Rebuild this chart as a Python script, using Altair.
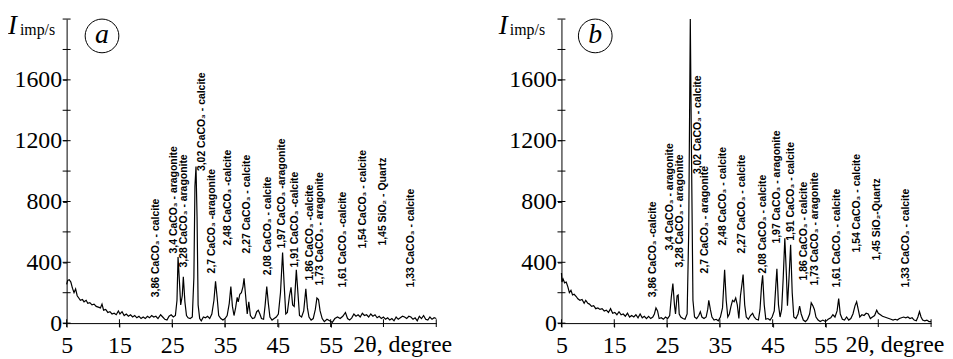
import altair as alt
import pandas as pd

# ---------------- data: panel a ----------------
a_deg = [5.0, 5.2, 5.5, 5.8, 6.1, 6.4, 6.7, 7.0, 7.3, 7.6, 8.0, 8.3, 8.7, 9.0, 9.4, 9.8, 10.2, 10.6, 11.0, 11.4,
         11.7, 12.0, 12.4, 12.8, 13.2, 13.6, 14.0, 14.4, 14.8, 15.1, 15.5, 15.9, 16.3, 16.7, 17.1, 17.5, 17.9, 18.3,
         18.7, 19.1, 19.5, 19.9, 20.3, 20.7, 21.1, 21.5, 21.9, 22.3, 22.8, 23.2, 23.6, 24.0, 24.4, 24.8, 25.2, 25.6,
         25.9, 26.1, 26.4, 26.6, 26.9, 27.1, 27.4, 27.7, 28.0, 28.4, 28.8, 29.1, 29.3, 29.5, 29.7, 29.9, 30.2, 30.5,
         30.9, 31.3, 31.7, 32.1, 32.5, 32.9, 33.2, 33.5, 33.8, 34.2, 34.6, 35.0, 35.4, 35.8, 36.1, 36.4, 36.7, 37.0,
         37.3, 37.5, 37.8, 38.1, 38.4, 38.6, 38.9, 39.2, 39.5, 39.8, 40.2, 40.6, 41.0, 41.3, 41.6, 41.9, 42.3, 42.6,
         42.9, 43.2, 43.5, 43.9, 44.3, 44.7, 45.1, 45.5, 45.9, 46.2, 46.5, 46.8, 47.2, 47.5, 47.8, 48.1, 48.5, 48.8,
         49.1, 49.5, 49.9, 50.3, 50.6, 50.9, 51.3, 51.7, 52.1, 52.4, 52.7, 53.0, 53.4, 53.8, 54.3, 54.8, 55.3, 55.8,
         56.3, 56.8, 57.3, 57.8, 58.2, 58.6, 59.0, 59.4, 59.8, 60.2, 60.6, 61.0, 61.4, 61.8, 62.2, 62.6, 63.0, 63.4,
         63.8, 64.2, 64.6, 65.0, 65.4, 65.8, 66.2, 66.6, 67.0, 67.4, 67.8, 68.2, 68.6, 69.0, 69.4, 69.8, 70.2, 70.6,
         71.0, 71.4, 71.8, 72.2, 72.6, 73.0, 73.4, 73.8, 74.2, 74.6, 75.0]
a_int = [255, 280, 285, 270, 230, 200, 225, 180, 165, 150, 155, 140, 150, 130, 135, 120, 125, 110, 105, 100,
         125, 85, 90, 70, 75, 60, 65, 55, 80, 60, 75, 50, 60, 45, 55, 40, 50, 35,
         45, 30, 40, 30, 45, 35, 50, 40, 45, 30, 55, 40, 25, 20, 45, 55, 40, 50,
         150, 435, 250, 120, 180, 305, 140, 50, 35, 30, 40, 300, 900, 1030, 700, 120, 30, 15,
         40, 35, 45, 30, 60, 150, 275, 170, 50, 30, 20, 30, 50, 130, 240, 110, 50, 100,
         170, 140, 190, 200, 240, 295, 180, 60, 140, 50, 30, 35, 75, 85, 60, 30, 25, 120,
         240, 130, 40, 20, 30, 40, 60, 200, 465, 250, 60, 70, 180, 235, 120, 110, 350, 200,
         50, 40, 80, 225, 100, 40, 20, 30, 90, 165, 155, 80, 30, 10, 25, 15, 5, 30,
         40, 30, 45, 70, 30, 20, 35, 60, 45, 55, 40, 65, 50, 55, 40, 60, 45, 55,
         35, 45, 30, 40, 25, 35, 20, 30, 15, 40, 25, 35, 45, 40, 30, 45, 40, 25,
         35, 15, 45, 30, 50, 25, 20, 40, 25, 35, 30]

# ---------------- data: panel b ----------------
b_deg = [5.0, 5.1, 5.3, 5.6, 5.9, 6.2, 6.5, 6.8, 7.1, 7.4, 7.8, 8.1, 8.5, 8.9, 9.3, 9.6, 10.0, 10.3, 10.7, 11.1,
         11.5, 11.9, 12.3, 12.7, 13.1, 13.5, 13.9, 14.3, 14.7, 15.1, 15.5, 15.9, 16.3, 16.7, 17.1, 17.5, 17.9, 18.3,
         18.7, 19.1, 19.5, 19.9, 20.3, 20.7, 21.1, 21.5, 21.9, 22.3, 22.6, 22.9, 23.2, 23.5, 23.9, 24.3, 24.7, 25.1,
         25.5, 25.8, 26.1, 26.4, 26.6, 26.9, 27.1, 27.3, 27.6, 28.0, 28.4, 28.8, 29.1, 29.4, 29.6, 29.9, 30.2, 30.6,
         31.0, 31.3, 31.6, 32.0, 32.4, 32.7, 32.9, 33.2, 33.5, 33.9, 34.3, 34.7, 35.1, 35.5, 35.9, 36.2, 36.5, 36.8,
         37.1, 37.4, 37.7, 38.0, 38.3, 38.6, 38.9, 39.2, 39.4, 39.7, 40.0, 40.4, 40.8, 41.2, 41.5, 41.9, 42.3, 42.6,
         42.9, 43.1, 43.4, 43.7, 44.1, 44.5, 44.9, 45.3, 45.6, 45.8, 46.1, 46.4, 46.7, 47.0, 47.3, 47.6, 47.8, 48.1,
         48.4, 48.7, 49.0, 49.4, 49.8, 50.1, 50.4, 50.8, 51.2, 51.6, 52.0, 52.3, 52.6, 52.9, 53.2, 53.6, 54.0, 54.5,
         55.0, 55.5, 56.0, 56.4, 56.8, 57.2, 57.5, 57.8, 58.2, 58.6, 59.0, 59.4, 59.8, 60.2, 60.6, 60.9, 61.2, 61.5,
         61.9, 62.3, 62.7, 63.1, 63.5, 63.9, 64.3, 64.7, 65.0, 65.4, 65.8, 66.2, 66.6, 67.0, 67.4, 67.8, 68.2, 68.6,
         69.0, 69.4, 69.8, 70.2, 70.6, 71.0, 71.4, 71.8, 72.2, 72.5, 72.8, 73.1, 73.4, 73.8, 74.2, 74.6, 75.0]
b_int = [330, 270, 290, 265, 270, 240, 200, 215, 185, 190, 175, 160, 150, 155, 130, 150, 130, 125, 110, 115,
         95, 100, 90, 95, 80, 85, 70, 95, 65, 70, 55, 75, 55, 60, 45, 65, 40, 50,
         40, 55, 35, 60, 35, 45, 30, 45, 30, 40, 60, 100, 80, 30, 35, 25, 40, 30,
         50, 170, 260, 120, 60, 180, 185, 60, 40, 30, 25, 60, 600, 2000, 1200, 150, 40, 30,
         50, 75, 40, 30, 40, 90, 150, 90, 40, 20, 25, 15, 40, 100, 350, 150, 40, 60,
         110, 150, 140, 165, 120, 30, 180, 260, 320, 120, 40, 25, 50, 65, 40, 25, 20, 90,
         250, 315, 120, 25, 30, 20, 40, 80, 250, 358, 120, 40, 90, 300, 558, 320, 115, 300,
         515, 200, 40, 30, 60, 111, 60, 20, 10, 25, 60, 133, 115, 90, 40, 20, 10, 20,
         10, 25, 35, 55, 40, 80, 161, 60, 25, 20, 40, 20, 30, 60, 115, 140, 90, 40,
         55, 50, 65, 60, 30, 40, 50, 85, 65, 55, 45, 40, 35, 30, 25, 20, 25, 20,
         30, 35, 40, 35, 40, 30, 35, 20, 15, 40, 75, 40, 20, 15, 20, 10, 10]

# ---------------- peak annotations ----------------
a_lab_text = ["3,86 CaCO₃ - calcite", "3,4 CaCO₃ - aragonite", "3,28 CaCO₃ - aragonite",
              "3,02 CaCO₃ - calcite", "2,7 CaCO₃ -aragonite", "2,48 CaCO₃ -calcite",
              "2,27 CaCO₃ - calcite", "2,08 CaCO₃ - calcite", "1,97 CaCO₃ -aragonite",
              "1,91 CaCO₃ -calcite", "1,86 CaCO₃ -calcite", "1,73 CaCO₃ - aragonite",
              "1,61 CaCO₃ -calcite", "1,54 CaCO₃ - calcite", "1,45 SiO₂ - Quartz",
              "1,33 CaCO₃ - calcite"]
a_lab_x = [22.0, 25.4, 27.3, 30.7, 32.5, 35.6, 39.2, 43.1, 45.8, 48.2, 51.0, 52.9, 57.3, 61.2, 65.0, 70.3]
a_lab_y = [170, 458, 366, 1000, 327, 510, 458, 314, 490, 366, 281, 248, 235, 490, 510, 235]

b_lab_text = ["3,86 CaCO₃ -calcite", "3,4 CaCO₃ - aragonite", "3,28 CaCO₃ - aragonite",
              "3,02 CaCO₃ - calcite", "2,7 CaCO₃ - aragonite", "2,48 CaCO₃ - calcite",
              "2,27 CaCO₃ - calcite", "2,08 CaCO₃ - calcite", "1,97 CaCO₃ - aragonite",
              "1,91 CaCO₃ - calcite", "1,86 CaCO₃ - calcite", "1,73 CaCO₃ - aragonite",
              "1,61 CaCO₃ - calcite", "1,54 CaCO₃ - calcite", "1,45 SiO₂-Quartz",
              "1,33 CaCO₃ - calcite"]
b_lab_x = [22.3, 25.6, 27.5, 30.9, 32.2, 35.6, 39.1, 43.1, 45.9, 48.5, 51.0, 53.1, 57.2, 60.9, 64.7, 70.3]
b_lab_y = [170, 477, 366, 980, 327, 510, 458, 327, 523, 542, 281, 248, 235, 464, 412, 235]

y_labels = [0, 200, 400, 600, 800, 1000, 1200, 1400, 1600]
y_ticks = [0, 200, 400, 600, 800, 1000, 1200, 1400, 1600, 1800, 2000]
x_labels = [5, 15, 25, 35, 45, 55]
x_ticks = [5, 15, 25, 35, 45, 55, 65, 75]

W, H = 372, 306
SERIF = "'Liberation Serif', 'Times New Roman', Times, serif"
SANS = "'Liberation Sans', Arial, Helvetica, sans-serif"


def panel(deg, inten, lab_text, lab_x, lab_y, letter, letter_x, i_off, sub_off, deg_text_x):
    xs = alt.Scale(domain=[5, 75], nice=False, zero=False)
    ys = alt.Scale(domain=[0, 2000], nice=False, zero=True)
    xax = alt.Axis(values=x_labels, tickSize=4, labelPadding=7, grid=False,
                   domainColor="black", tickColor="black",
                   labelFont=SERIF, labelFontSize=24, labelColor="black", labelFlush=False,
                   labelOverlap=False, title=None)
    yax = alt.Axis(values=y_labels, format="d", tickSize=4, labelPadding=1, grid=False,
                   domainColor="black", tickColor="black",
                   labelFont=SERIF, labelFontSize=24, labelColor="black", labelOverlap=False,
                   labelFlush=False, title=None)

    df = pd.DataFrame({"deg": deg, "I": inten})
    line = alt.Chart(df).mark_line(color="black", strokeWidth=1.2).encode(
        x=alt.X("deg:Q", scale=xs, axis=xax),
        y=alt.Y("I:Q", scale=ys, axis=yax),
    )

    # crossing ticks on both axes
    yt = alt.Chart(pd.DataFrame({"t": y_ticks})).mark_tick(
        orient="horizontal", size=8, thickness=1, color="black", opacity=1).encode(
        x=alt.value(0), y=alt.Y("t:Q", scale=ys))
    xt = alt.Chart(pd.DataFrame({"t": x_ticks})).mark_tick(
        orient="vertical", size=8, thickness=1, color="black", opacity=1).encode(
        y=alt.value(H), x=alt.X("t:Q", scale=xs))

    ldf = pd.DataFrame({"t": lab_text, "x": lab_x, "y": lab_y})
    labels = alt.Chart(ldf).mark_text(angle=270, align="left", baseline="middle", font=SANS,
                                      fontSize=10.5, fontWeight="bold", color="black").encode(
        x=alt.X("x:Q", scale=xs), y=alt.Y("y:Q", scale=ys), text="t:N")

    cdf = pd.DataFrame({"x": [letter_x], "y": [1889], "t": [letter]})
    circ = alt.Chart(cdf).mark_point(shape="circle", size=1150, filled=False, color="black",
                                     strokeWidth=1, opacity=1).encode(
        x=alt.X("x:Q", scale=xs), y=alt.Y("y:Q", scale=ys))
    let = alt.Chart(cdf).mark_text(font=SERIF, fontStyle="italic", fontSize=28, align="center",
                                   baseline="middle", color="black", dy=-1).encode(
        x=alt.X("x:Q", scale=xs), y=alt.Y("y:Q", scale=ys), text="t:N")

    ititle = alt.Chart(pd.DataFrame({"t": ["I"]})).mark_text(
        font=SERIF, fontStyle="italic", fontSize=27, align="left", baseline="alphabetic",
        color="black").encode(x=alt.value(i_off), y=alt.value(15), text="t:N")
    isub = alt.Chart(pd.DataFrame({"t": ["imp/s"]})).mark_text(
        font=SERIF, fontSize=16, align="left", baseline="alphabetic",
        color="black").encode(x=alt.value(sub_off), y=alt.value(16), text="t:N")

    dtext = alt.Chart(pd.DataFrame({"t": ["2θ, degree"], "x": [deg_text_x]})).mark_text(
        font=SERIF, fontSize=24, align="left", baseline="alphabetic", color="black").encode(
        x=alt.X("x:Q", scale=xs), y=alt.value(H + 29), text="t:N")

    return alt.layer(line, yt, xt, labels, circ, let, ititle, isub, dtext).properties(width=W, height=H)


pa = panel(a_deg, a_int, a_lab_text, a_lab_x, a_lab_y, "a", 11.7, -59, -47, 59.3)
pb = panel(b_deg, b_int, b_lab_text, b_lab_x, b_lab_y, "b", 11.4, -63, -52, 58.8)

chart = alt.hconcat(pa, pb, spacing=126, bounds="flush").properties(
    padding={"left": 0, "top": 3, "right": 0, "bottom": 0}
).configure_view(strokeWidth=0)

chart.save("out.html", embed_options={"renderer": "svg", "actions": False})
